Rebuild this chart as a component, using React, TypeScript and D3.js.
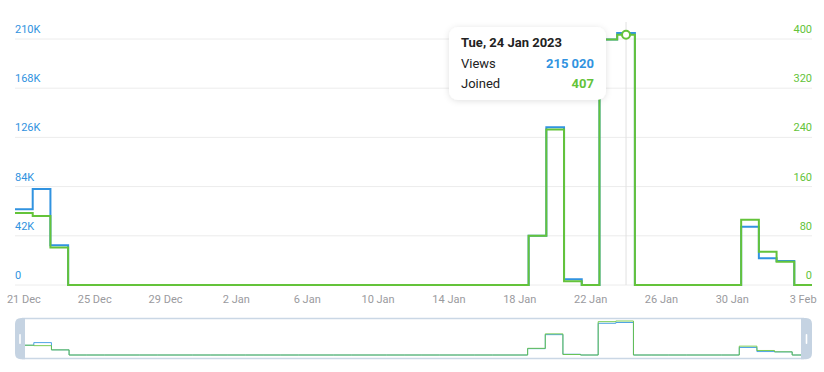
import React from 'react'
import * as d3 from 'd3'

// daily values, 21 Dec 2022 .. 3 Feb 2023
const startDay = new Date(2022, 11, 21)
const days = d3.timeDay.range(startDay, new Date(2023, 1, 4))

const views = [
  64600, 82000, 34000,
  0, 0, 0, 0, 0, 0, 0, 0, 0, 0, 0, 0, 0, 0, 0, 0, 0, 0, 0, 0, 0, 0, 0, 0, 0, 0,
  42000, 134600, 4900, 0, 209600, 215020,
  0, 0, 0, 0, 0, 0,
  49800, 22800, 20500, 0,
]
const joined = [
  117, 112, 61,
  0, 0, 0, 0, 0, 0, 0, 0, 0, 0, 0, 0, 0, 0, 0, 0, 0, 0, 0, 0, 0, 0, 0, 0, 0, 0,
  80, 253, 6, 0, 399, 407,
  0, 0, 0, 0, 0, 0,
  106, 54, 38, 0,
]

const viewTicks = [0, 42000, 84000, 126000, 168000, 210000]
const viewTickLabels = ['0', '42K', '84K', '126K', '168K', '210K']
const joinTicks = [0, 80, 160, 240, 320, 400]
const xTickLabels = ['21 Dec', '25 Dec', '29 Dec', '2 Jan', '6 Jan', '10 Jan', '14 Jan', '18 Jan', '22 Jan', '26 Jan', '30 Jan', '3 Feb']
const xTickDayIndex = [0, 4, 8, 12, 16, 20, 24, 28, 32, 36, 40, 44]

const hoverIndex = 34

const BLUE = '#3193E0'
const GREEN = '#64C33A'
const FONT = 'Roboto, "Helvetica Neue", Arial, sans-serif'

export default function App() {
  const W = 824, H = 372
  const left = 15, right = 812, top = 39, bottom = 285

  const half = 12 * 3600 * 1000
  const x = d3.scaleTime()
    .domain([new Date(+days[0] - half), new Date(+days[days.length - 1] + half)])
    .range([left, right])
  const yV = d3.scaleLinear().domain([0, 210000]).range([bottom, top])
  const yJ = d3.scaleLinear().domain([0, 400]).range([bottom, top])

  // pad half a day on each side so the steps are centred on their dates
  const padded = (vals: number[]) => {
    const pts: [Date, number][] = days.map((d, i) => [d, vals[i]])
    pts.unshift([x.domain()[0], vals[0]])
    pts.push([x.domain()[1], vals[vals.length - 1]])
    return pts
  }
  const lineV = d3.line<[Date, number]>().x(d => x(d[0])).y(d => yV(d[1])).curve(d3.curveStep)
  const lineJ = d3.line<[Date, number]>().x(d => x(d[0])).y(d => yJ(d[1])).curve(d3.curveStep)

  // navigator
  const nx = d3.scaleTime().domain([days[0], days[days.length - 1]]).range([25, 801])
  const nyV = d3.scaleLinear().domain([0, d3.max(views)!]).range([355, 322.5])
  const nyJ = d3.scaleLinear().domain([0, d3.max(joined)!]).range([355, 321])
  const navV = d3.line<number>().x((d, i) => nx(days[i])).y(d => nyV(d)).curve(d3.curveStep)
  const navJ = d3.line<number>().x((d, i) => nx(days[i])).y(d => nyJ(d)).curve(d3.curveStep)

  const hx = x(days[hoverIndex])
  const hy = yJ(joined[hoverIndex])
  const fmtNum = (n: number) => d3.format(',')(n).replace(/,/g, ' ')

  const tipX = 449, tipY = 27, tipW = 157, tipH = 73

  return (
    <svg width={W} height={H} style={{ position: 'absolute', left: 0, top: 0, background: '#fff' }} fontFamily={FONT}>
      <defs>
        <filter id="shadow" x="-20%" y="-30%" width="140%" height="160%">
          <feDropShadow dx="0" dy="1" stdDeviation="3" floodColor="#000" floodOpacity="0.12" />
        </filter>
        <clipPath id="navclip">
          <rect x={25} y={318} width={776} height={41} />
        </clipPath>
      </defs>

      {/* grid */}
      {viewTicks.map((t, i) => (
        <line key={'g' + i} x1={left} x2={right} y1={yV(t)} y2={yV(t)} stroke="#ECECEC" strokeWidth={1} />
      ))}
      {viewTicks.map((t, i) => (
        <text key={'lv' + i} x={left} y={yV(t) - 6} fontSize={11} fill={BLUE}>{viewTickLabels[i]}</text>
      ))}
      {joinTicks.map((t, i) => (
        <text key={'lj' + i} x={right} y={yJ(t) - 6} fontSize={11} fill={GREEN} textAnchor="end">{t}</text>
      ))}
      {xTickLabels.map((lab, i) => (
        <text key={'x' + i} x={x(days[xTickDayIndex[i]])} y={303} fontSize={11} fill="#9A9A9E" textAnchor="middle">{lab}</text>
      ))}

      {/* hover line */}
      <line x1={hx} x2={hx} y1={22} y2={bottom} stroke="#E2E2E2" strokeWidth={1} />

      <path d={lineV(padded(views))!} fill="none" stroke={BLUE} strokeWidth={2} />
      <path d={lineJ(padded(joined))!} fill="none" stroke={GREEN} strokeWidth={2} />

      <circle cx={hx} cy={hy} r={4} fill="#fff" stroke={GREEN} strokeWidth={2} />

      {/* tooltip */}
      <g>
        <rect x={tipX} y={tipY} width={tipW} height={tipH} rx={9} fill="#fff" filter="url(#shadow)" />
        <text x={tipX + 12} y={tipY + 20} fontSize={13} fontWeight="bold" fill="#222">
          {d3.timeFormat('%a, %-d %b %Y')(days[hoverIndex])}
        </text>
        <text x={tipX + 12} y={tipY + 41} fontSize={13} fill="#222">Views</text>
        <text x={tipX + tipW - 12} y={tipY + 41} fontSize={13} fontWeight="bold" fill={BLUE} textAnchor="end">
          {fmtNum(views[hoverIndex])}
        </text>
        <text x={tipX + 12} y={tipY + 61} fontSize={13} fill="#222">Joined</text>
        <text x={tipX + tipW - 12} y={tipY + 61} fontSize={13} fontWeight="bold" fill={GREEN} textAnchor="end">
          {fmtNum(joined[hoverIndex])}
        </text>
      </g>

      {/* navigator */}
      <g clipPath="url(#navclip)">
        <path d={navV(views)!} fill="none" stroke={BLUE} strokeWidth={1} strokeOpacity={0.85} />
        <path d={navJ(joined)!} fill="none" stroke={GREEN} strokeWidth={1} strokeOpacity={0.85} />
      </g>
      <line x1={22} x2={804} y1={318.5} y2={318.5} stroke="#CAD7E5" strokeWidth={1.5} />
      <line x1={22} x2={804} y1={358.5} y2={358.5} stroke="#CAD7E5" strokeWidth={1.5} />
      <path d="M25,318 H21 Q15,318 15,324 V353 Q15,359.2 21,359.2 H25 Z" fill="#C5D3E2" />
      <path d="M801,318 H806 Q812,318 812,324 V353 Q812,359.2 806,359.2 H801 Z" fill="#C5D3E2" />
      <rect x={19.2} y={334} width={1.6} height={10} rx={0.8} fill="#fff" />
      <rect x={805.7} y={334} width={1.6} height={10} rx={0.8} fill="#fff" />
    </svg>
  )
}
